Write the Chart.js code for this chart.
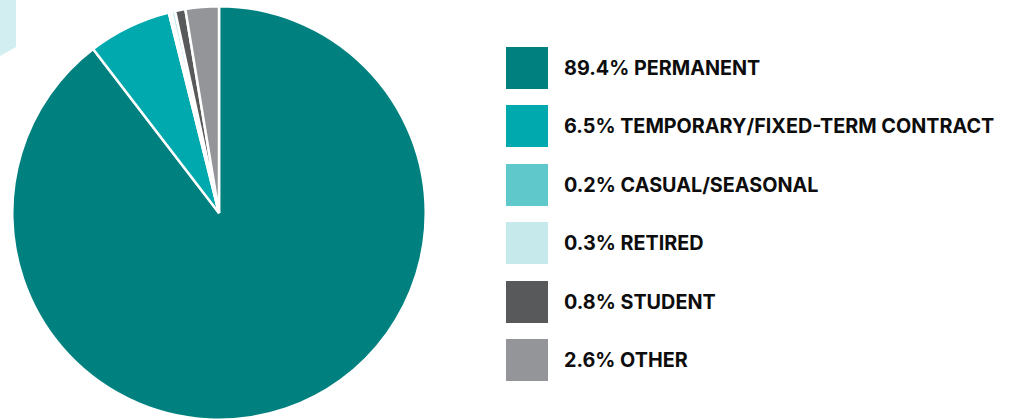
<!DOCTYPE html>
<html>
<head>
<meta charset="utf-8">
<script src="https://cdn.jsdelivr.net/npm/chart.js"></script>
<style>
    body { margin: 0; background: #fff; width: 1013px; height: 419px; overflow: hidden; position: relative; }
    .corner {
        position: absolute; left: 0; top: 0; width: 16px; height: 56px;
        background: #d2eef0;
        clip-path: polygon(0 0, 100% 0, 100% 84%, 0 100%);
    }
    .pie-box { position: absolute; left: 10.5px; top: 4.5px; width: 416px; height: 416px; }
    .legend { position: absolute; left: 506px; top: 0; }
    .legend-item { position: absolute; left: 0; height: 42px; display: flex; align-items: center; white-space: nowrap; }
    .legend-swatch { width: 42px; height: 42px; margin-right: 16px; flex: none; }
    .legend-text { font-family: Inter, Roboto, sans-serif; font-weight: 700; font-size: 19.8px; color: #0d0d0d; }
</style>
</head>
<body>
<div class="corner"></div>
<div class="pie-box"><canvas id="pieChart"></canvas></div>
<div class="legend" id="legend"></div>

<script>
// Employment status breakdown
const categories = ['PERMANENT', 'TEMPORARY/FIXED-TERM CONTRACT', 'CASUAL/SEASONAL', 'RETIRED', 'STUDENT', 'OTHER'];
const percentages = [89.4, 6.5, 0.2, 0.3, 0.8, 2.6];
const sliceColors = ['#00807e', '#00a9ad', '#5fc8cb', '#c6e9eb', '#58595b', '#939598'];

// Build the legend from the same arrays
function buildLegend() {
    const legendDiv = document.getElementById('legend');
    categories.forEach((name, i) => {
        const item = document.createElement('div');
        item.className = 'legend-item';
        item.style.top = (46.5 + i * 58.5) + 'px';

        const swatch = document.createElement('div');
        swatch.className = 'legend-swatch';
        swatch.style.background = sliceColors[i];

        const text = document.createElement('span');
        text.className = 'legend-text';
        text.textContent = `${percentages[i]}% ${name}`;

        item.appendChild(swatch);
        item.appendChild(text);
        legendDiv.appendChild(item);
    });
}

// Draw the pie
function renderChart() {
    const ctx = document.getElementById('pieChart').getContext('2d');
    new Chart(ctx, {
        type: 'pie',
        data: {
            labels: categories,
            datasets: [{
                data: percentages,
                backgroundColor: sliceColors,
                borderColor: '#ffffff',
                borderWidth: 2.5
            }]
        },
        options: {
            responsive: true,
            maintainAspectRatio: false,
            animation: false,
            layout: { padding: 0 },
            plugins: {
                legend: { display: false },
                tooltip: { enabled: false }
            }
        }
    });
}

buildLegend();
renderChart();
</script>
</body>
</html>
